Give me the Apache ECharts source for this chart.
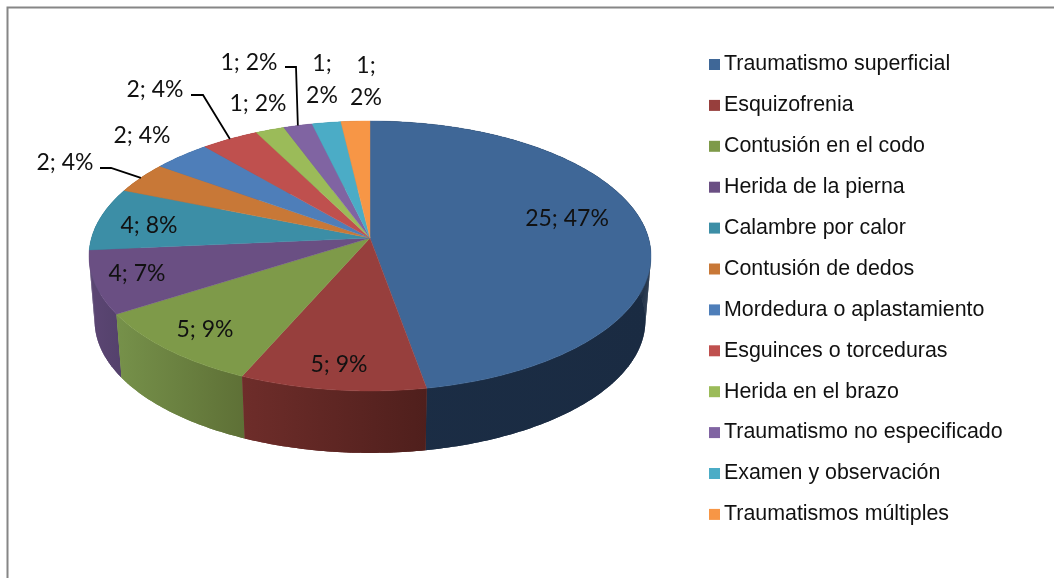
<!DOCTYPE html>
<html>
<head>
<meta charset="utf-8">
<style>html,body{margin:0;padding:0;background:#fff}#c{width:1054px;height:578px}</style>
<script src="https://cdn.jsdelivr.net/npm/echarts@6/dist/echarts.min.js"></script>
</head>
<body>
<div id="c"></div>
<script>
// ---------- data ----------
const categories = ['Traumatismo superficial','Esquizofrenia','Contusión en el codo','Herida de la pierna','Calambre por calor','Contusión de dedos','Mordedura o aplastamiento','Esguinces o torceduras','Herida en el brazo','Traumatismo no especificado','Examen y observación','Traumatismos múltiples'];
const values = [25,5,5,4,4,2,2,2,1,1,1,1];
const percents = [47,9,9,7,8,4,4,4,2,2,2,2];

// ---------- style ----------
const topColors = ['#3F6797','#973F3D','#7E9A49','#6A4F83','#3C8EA6','#C87837','#4E7EB9','#BF504E','#9BBB59','#8064A2','#4BACC6','#F79646'];
const wallLeft  = ['#1B2D45','#6E2D2A','#76914A','#5C4673','#2F6F82','#A05F2C','#3E6593','#99403E','#7C9647','#665082','#3C899E','#C67838'];
const wallRight = ['#1A2B42','#4F1F1C','#5E7036','#54416C','#2F6F82','#A05F2C','#3E6593','#99403E','#7C9647','#665082','#3C899E','#C67838'];
const labelFont = 'Lato, Carlito, sans-serif';
// label placement: [centre x, centre y, line-break?]
const labelPlace = [[567,219],[339,365],[205,330],[137,274],[149,226],[65,163],[142,136],[155,90],[258,104],[249,63],[322,80,true],[366,82,true]];
// leader lines: elbow points running from label to slice edge
const leaders = {5:[[100,168],[111,168]], 7:[[191,95],[203,95]], 9:[[285,67],[296,67]]};
// disc projection
const disc = {cx:370, cy:238, A:278.5, B:132.6, k:0.1333, depth:65, shrink:0.98};

// ---------- geometry ----------
const total = values.reduce((a,b)=>a+b,0);
const starts = values.reduce((acc,v,i)=>{acc.push(i?acc[i-1]+values[i-1]:0);return acc;},[]);
function rim(angle, lower){
  const u=Math.sin(angle), v=-Math.cos(angle), d=1-disc.k*v;
  const s=lower?disc.shrink:1;
  return [disc.cx+s*disc.A*u/d, disc.cy+(lower?disc.depth:0)+s*disc.B*v/d];
}
function angleAt(cum){return cum/total*Math.PI*2;}
function arc(i, lower){
  const a0=angleAt(starts[i]), a1=angleAt(starts[i]+values[i]);
  const n=Math.max(8,Math.ceil(values[i]*8)), pts=[];
  for(let j=0;j<=n;j++) pts.push(rim(a0+(a1-a0)*j/n,lower));
  return pts;
}
function renderWall(i){
  return function(){
    const t=arc(i,false), b=arc(i,true);
    const xs=t.concat(b).map(p=>p[0]), lo=Math.min(...xs), hi=Math.max(...xs);
    const grad={type:'linear',global:true,x:lo,y:0,x2:hi,y2:0,colorStops:[{offset:0,color:wallLeft[i]},{offset:1,color:wallRight[i]}]};
    const kids=[{type:'polygon',shape:{points:t.concat(b.slice().reverse())},style:{fill:grad}}];
    for(let j=0;j<t.length-1;j++){
      kids.push({type:'polygon',shape:{points:[t[j],t[j+1],b[j+1],b[j]]},style:{fill:grad}});
    }
    return {type:'group',children:kids};
  };
}
function renderTop(i){
  return function(){
    const pts=[[disc.cx,disc.cy]].concat(arc(i,false));
    return {type:'polygon',shape:{points:pts},style:{fill:topColors[i],stroke:topColors[i],lineWidth:0.4}};
  };
}
function renderLabel(i){
  return function(){
    const p=labelPlace[i];
    const txt=values[i]+';'+(p[2]?'\n':' ')+percents[i]+'%';
    const kids=[{type:'text',x:p[0],y:p[1],style:{text:txt,font:'23px '+labelFont,fill:'#111',align:'center',verticalAlign:'middle',lineHeight:32}}];
    if(leaders[i]){
      const mid=angleAt(starts[i]+values[i]/2);
      kids.push({type:'polyline',shape:{points:leaders[i].concat([rim(mid,false)])},style:{stroke:'#000',lineWidth:1.8,fill:null}});
    }
    return {type:'group',children:kids};
  };
}
const series=[];
categories.forEach((name,i)=>{
  const base={type:'custom',coordinateSystem:'none',name:name,silent:true,animation:false,data:[[values[i]]],itemStyle:{color:topColors[i]}};
  const midV=-Math.cos(angleAt(starts[i]+values[i]/2));
  series.push(Object.assign({},base,{z:1+(midV+1)*0.4,renderItem:renderWall(i)}));
  series.push(Object.assign({},base,{z:2,renderItem:renderTop(i)}));
  series.push(Object.assign({},base,{z:3,renderItem:renderLabel(i)}));
});

const chart=echarts.init(document.getElementById('c'),null,{renderer:'canvas'});
chart.setOption({
  backgroundColor:'#fff',
  animation:false,
  legend:{
    data:categories.map((n,i)=>({name:n,itemStyle:{color:topColors[i]}})),
    orient:'vertical',left:709,top:54,padding:0,itemWidth:11,itemHeight:11,itemGap:19.9,icon:'rect',selectedMode:false,
    textStyle:{fontFamily:'Liberation Sans, Arial, sans-serif',fontSize:21.4,color:'#111',lineHeight:20,padding:[0,0,0,-1]}
  },
  graphic:[{type:'rect',silent:true,z:0,shape:{x:7.5,y:7.5,width:1060,height:600},style:{fill:'none',stroke:'#868686',lineWidth:2}}],
  series:series
});
</script>
</body>
</html>
